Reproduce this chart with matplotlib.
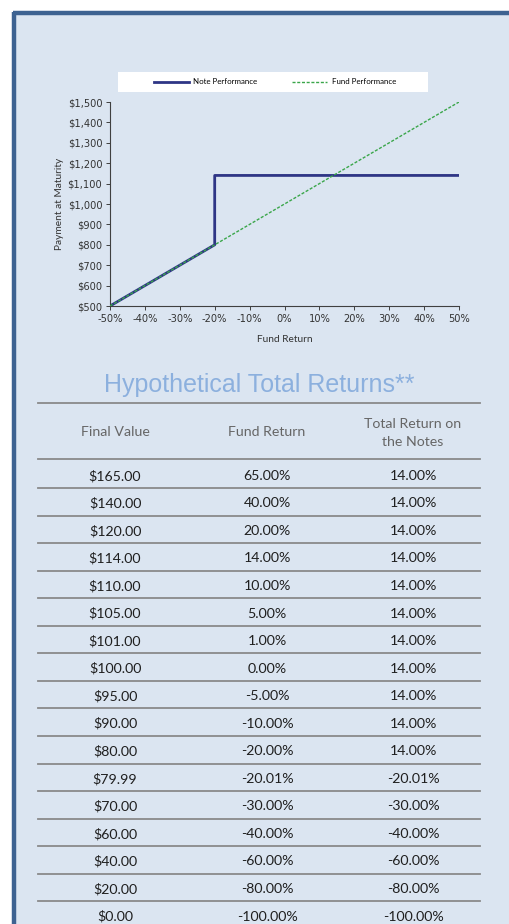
import matplotlib
matplotlib.use("Agg")
import matplotlib.pyplot as plt
from matplotlib.patches import Rectangle
from matplotlib.lines import Line2D
from matplotlib.ticker import FuncFormatter

# ---- chart data ----
note_x = [-50, -20, -20, 50]
note_y = [500, 800, 1140, 1140]
fund_x = [-50, 50]
fund_y = [500, 1500]
x_ticks = [-50, -40, -30, -20, -10, 0, 10, 20, 30, 40, 50]
y_ticks = [500, 600, 700, 800, 900, 1000, 1100, 1200, 1300, 1400, 1500]

# ---- table data ----
headers = ["Final Value", "Fund Return", "Total Return on\nthe Notes"]
final_values = ["$165.00", "$140.00", "$120.00", "$114.00", "$110.00", "$105.00",
                "$101.00", "$100.00", "$95.00", "$90.00", "$80.00", "$79.99",
                "$70.00", "$60.00", "$40.00", "$20.00", "$0.00"]
fund_returns = ["65.00%", "40.00%", "20.00%", "14.00%", "10.00%", "5.00%",
                "1.00%", "0.00%", "-5.00%", "-10.00%", "-20.00%", "-20.01%",
                "-30.00%", "-40.00%", "-60.00%", "-80.00%", "-100.00%"]
note_returns = ["14.00%", "14.00%", "14.00%", "14.00%", "14.00%", "14.00%",
                "14.00%", "14.00%", "14.00%", "14.00%", "14.00%", "-20.01%",
                "-30.00%", "-40.00%", "-60.00%", "-80.00%", "-100.00%"]

W, H = 509, 924
fig = plt.figure(figsize=(W / 100, H / 100), dpi=100)
fig.patch.set_facecolor("white")

def fx(px):
    return px / W

def fy(py):
    return 1 - py / H

BG = "#dbe5f1"
BORDER = "#3d6291"

# background panel with border
fig.add_artist(Rectangle((fx(14), 0), 1 - fx(14), fy(12), transform=fig.transFigure,
                         facecolor=BG, edgecolor="none", zorder=0))
fig.add_artist(Line2D([fx(14), fx(14)], [0, fy(12)], transform=fig.transFigure,
                      color=BORDER, lw=3.2, zorder=1, solid_capstyle="butt"))
fig.add_artist(Line2D([fx(12.5), 1], [fy(12.5), fy(12.5)], transform=fig.transFigure,
                      color=BORDER, lw=3.2, zorder=1, solid_capstyle="butt"))

# ---- chart ----
TXT = "#333333"
ax = fig.add_axes([fx(110), fy(306), fx(459) - fx(110), fy(102) - fy(306)])
ax.set_facecolor("none")
ax.plot(fund_x, fund_y, color="#3aa64a", lw=1.0, ls=(0, (2.2, 1.2)), zorder=3,
        label="Fund Performance")
ax.plot(note_x, note_y, color="#2e3585", lw=2.0, zorder=2, label="Note Performance")
ax.set_xlim(-50, 50)
ax.set_ylim(500, 1500)
ax.set_xticks(x_ticks)
ax.set_yticks(y_ticks)
ax.xaxis.set_major_formatter(FuncFormatter(lambda v, p: f"{int(v)}%"))
ax.yaxis.set_major_formatter(FuncFormatter(lambda v, p: f"${int(v):,}"))
for s in ["top", "right"]:
    ax.spines[s].set_visible(False)
for s in ["left", "bottom"]:
    ax.spines[s].set_color("#404040")
    ax.spines[s].set_linewidth(0.8)
ax.tick_params(axis="both", direction="out", length=3, width=0.7, color="#404040",
               labelsize=7.1, labelcolor=TXT, pad=2.5)
for lab in ax.get_xticklabels() + ax.get_yticklabels():
    lab.set_family("DejaVu Sans")
ax.set_xlabel("Fund Return", fontsize=7.3, family="Lato", color=TXT, labelpad=8.5)
ax.set_ylabel("Payment at Maturity", fontsize=7.3, family="Lato", color=TXT, labelpad=2.5)

# legend box
fig.add_artist(Rectangle((fx(118), fy(92)), fx(428) - fx(118), fy(72) - fy(92),
                         transform=fig.transFigure, facecolor="white",
                         edgecolor="none", zorder=2))
handles, labels = ax.get_legend_handles_labels()
leg = fig.legend(handles[::-1], labels[::-1], loc="center",
                 bbox_to_anchor=(fx(275), fy(82)), ncol=2, frameon=False,
                 prop={"family": "Lato", "size": 5.7}, handlelength=4.4,
                 handletextpad=0.6, columnspacing=4.4)
leg.set_zorder(3)

# ---- title ----
fig.text(fx(259), fy(392), "Hypothetical Total Returns**", ha="center", va="baseline",
         fontsize=18, family="Liberation Sans", color="#8cb0de")

# ---- table ----
LINE = "#8a8a8a"
col_x = [115, 267, 413]
x0, x1 = 38, 480

def hline(py):
    fig.add_artist(Line2D([fx(x0), fx(x1)], [fy(py), fy(py)], transform=fig.transFigure,
                          color=LINE, lw=1.3, zorder=2))

hline(403)
for cx, h in zip(col_x, headers):
    fig.text(fx(cx), fy(432.5), h, ha="center", va="center", fontsize=10.2,
             family="Lato", color="#666666", linespacing=1.6)
hline(459)

row_h = 27.55
first_top = 460.5
for i, (a, b, c) in enumerate(zip(final_values, fund_returns, note_returns)):
    top = first_top + i * row_h
    yc = top + row_h / 2 + 1.5
    for cx, t in zip(col_x, (a, b, c)):
        fig.text(fx(cx), fy(yc), t, ha="center", va="center", fontsize=10.2,
                 family="Lato", color="#1f1f1f")
    if i < len(final_values) - 1:
        hline(top + row_h)

fig.savefig("out.png", dpi=100, facecolor=fig.get_facecolor())
